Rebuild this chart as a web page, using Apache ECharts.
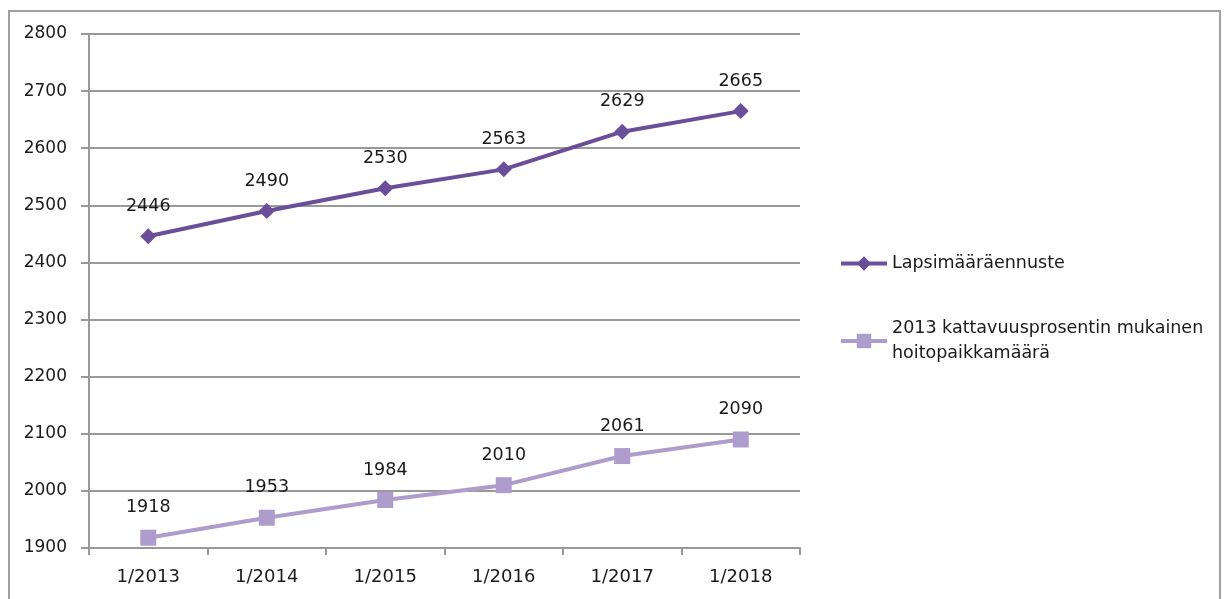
<!DOCTYPE html>
<html><head><meta charset="utf-8">
<script src="https://cdn.jsdelivr.net/npm/echarts@6/dist/echarts.min.js"></script>
<style>html,body{margin:0;padding:0;background:#fff}#c{width:1226px;height:599px}</style>
</head><body><div id="c"></div>
<script>
const categories = ['1/2013','1/2014','1/2015','1/2016','1/2017','1/2018'];
const seriesNames = ['Lapsimääräennuste','2013 kattavuusprosentin mukainen\nhoitopaikkamäärä'];
const forecast = [2446, 2490, 2530, 2563, 2629, 2665];
const places = [1918, 1953, 1984, 2010, 2061, 2090];
const yMin = 1900, yMax = 2800, yStep = 100;

const dark = '#6b4e99', light = '#ae9ccc';
const chart = echarts.init(document.getElementById('c'));
const labelStyle = {show:true, position:'top', distance:13, color:'#1a1a1a', fontSize:17.5, fontFamily:'DejaVu Sans'};
chart.setOption({
  animation:false,
  graphic:[{type:'rect', shape:{x:9,y:11,width:1211,height:620}, style:{fill:'none', stroke:'#a0a0a0', lineWidth:2}, silent:true}],
  grid:{left:89, top:34, width:711, height:514, containLabel:false},
  xAxis:{type:'category', data:categories, boundaryGap:true,
    axisLine:{show:true, lineStyle:{color:'#999', width:2}},
    axisTick:{show:true, alignWithLabel:false, length:7, lineStyle:{color:'#999', width:2}},
    axisLabel:{color:'#1a1a1a', fontSize:18, fontFamily:'DejaVu Sans', margin:20}},
  yAxis:{type:'value', min:yMin, max:yMax, interval:yStep,
    axisLine:{show:true, lineStyle:{color:'#999', width:2}},
    axisTick:{show:true, length:8, lineStyle:{color:'#999', width:2}},
    splitLine:{show:true, lineStyle:{color:'#999', width:2}},
    axisLabel:{color:'#1a1a1a', fontSize:17, fontFamily:'DejaVu Sans', margin:22, formatter:v=>String(v)}},
  legend:{orient:'vertical', left:834, top:246, itemWidth:46, itemHeight:18, itemGap:40,
    lineStyle:{width:4},
    textStyle:{color:'#1a1a1a', fontSize:17.5, fontFamily:'DejaVu Sans', lineHeight:25},
    data:[{name:seriesNames[0]},{name:seriesNames[1]}]},
  series:[
    {name:seriesNames[0], type:'line', data:forecast, symbol:'diamond', symbolSize:16,
      lineStyle:{color:dark, width:4}, itemStyle:{color:dark}, label:labelStyle},
    {name:seriesNames[1], type:'line', data:places, symbol:'rect', symbolSize:16,
      lineStyle:{color:light, width:4}, itemStyle:{color:light}, label:labelStyle}
  ]
});
</script></body></html>
